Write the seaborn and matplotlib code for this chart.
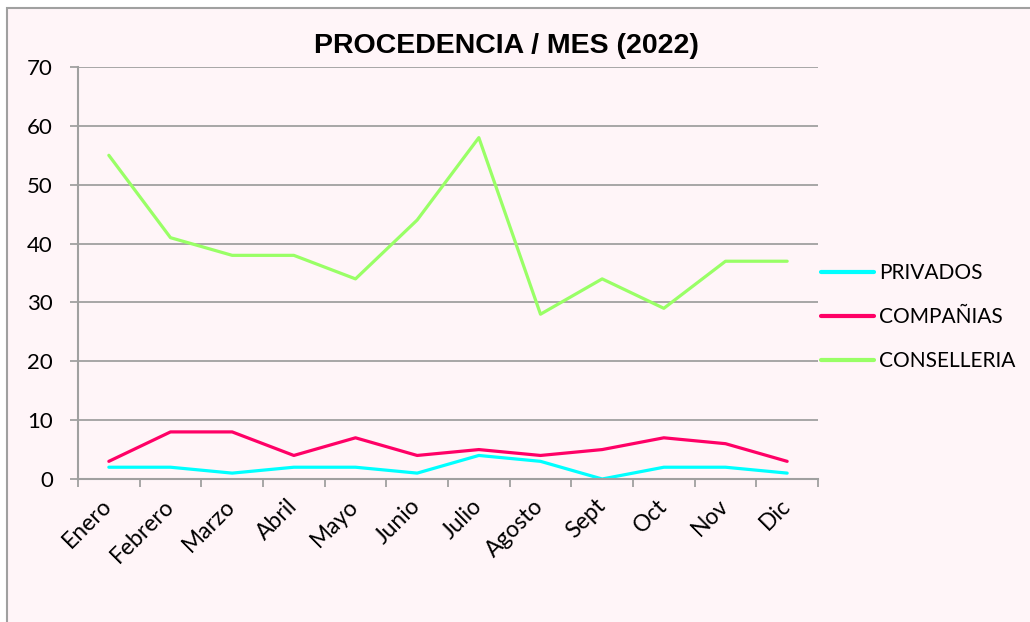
import matplotlib
matplotlib.use("Agg")
import matplotlib.pyplot as plt
import seaborn as sns
import pandas as pd
import numpy as np
from matplotlib.patches import Rectangle
from matplotlib.transforms import ScaledTranslation

months = ["Enero", "Febrero", "Marzo", "Abril", "Mayo", "Junio",
          "Julio", "Agosto", "Sept", "Oct", "Nov", "Dic"]
privados = [2, 2, 1, 2, 2, 1, 4, 3, 0, 2, 2, 1]
companias = [3, 8, 8, 4, 7, 4, 5, 4, 5, 7, 6, 3]
conselleria = [55, 41, 38, 38, 34, 44, 58, 28, 34, 29, 37, 37]
series_names = ["PRIVADOS", "COMPAÑIAS", "CONSELLERIA"]
colors = ["#00FFFF", "#FF0066", "#99FF66"]
yticks = [0, 10, 20, 30, 40, 50, 60, 70]

rows = []
for name, vals in zip(series_names, [privados, companias, conselleria]):
    for i, v in enumerate(vals):
        rows.append({"idx": i, "value": v, "serie": name})
df = pd.DataFrame(rows)

sns.set_theme(style="white")
plt.rcParams["font.family"] = ["Lato", "DejaVu Sans"]
plt.rcParams["text.color"] = "black"
plt.rcParams["xtick.color"] = "black"
plt.rcParams["ytick.color"] = "black"

bg = "#FFF5F8"
gray = "#A0A0A0"
fig = plt.figure(figsize=(10.30, 6.22), dpi=100)
fig.patch.set_facecolor("white")
fig.patches.append(Rectangle((7 / 1030, -0.01), 1.1, 1 - 8 / 622 + 0.01,
                             transform=fig.transFigure, facecolor=bg,
                             edgecolor=gray, linewidth=1.5, zorder=-10))

ax = fig.add_axes([78 / 1030, 1 - 479 / 622, 740 / 1030, 412 / 622])
ax.set_facecolor(bg)
ax.patch.set_alpha(0)

sns.lineplot(data=df, x="idx", y="value", hue="serie", hue_order=series_names,
             palette=colors, linewidth=2.3, sort=False, ax=ax, legend=True)

ax.set_xlim(-0.5, 11.5)
ax.set_ylim(0, 70)
ax.set_yticks(yticks)
ax.set_yticklabels([str(t) for t in yticks], fontsize=16, color="black")
ax.yaxis.grid(True, color=gray, linewidth=1.3)
ax.set_axisbelow(True)

ax.set_xticks(np.arange(len(months)))
ax.set_xticklabels(months, rotation=45, ha="right", va="center",
                   rotation_mode="anchor", fontsize=16.5, color="black")
shift = ScaledTranslation(4 / 100, 0, fig.dpi_scale_trans)
for lab in ax.get_xticklabels():
    lab.set_transform(lab.get_transform() + shift)
ax.xaxis.set_minor_locator(matplotlib.ticker.FixedLocator(np.arange(-0.5, 12, 1)))
ax.tick_params(axis="x", which="major", length=0, pad=17)
ax.tick_params(axis="x", which="minor", length=6, width=1.3, color=gray, direction="out", bottom=True)
ax.tick_params(axis="y", length=6, width=1.3, color=gray, direction="out", left=True, pad=12)

for s in ["top", "right"]:
    ax.spines[s].set_visible(False)
for s in ["left", "bottom"]:
    ax.spines[s].set_color(gray)
    ax.spines[s].set_linewidth(1.5)

ax.set_xlabel("")
ax.set_ylabel("")

leg = ax.legend(loc="center left", bbox_to_anchor=(821 / 1030, 1 - 317 / 622),
                bbox_transform=fig.transFigure, frameon=False, fontsize=15,
                borderpad=0, borderaxespad=0,
                handlelength=2.55, handletextpad=0.25, labelspacing=1.15)
for line in leg.get_lines():
    line.set_linewidth(3)
for t in leg.get_texts():
    t.set_color("black")

fig.text(506 / 1030, 1 - 46 / 622, "PROCEDENCIA / MES (2022)", ha="center", va="center",
         fontsize=20.5, fontweight="bold", color="black",
         family=["Liberation Sans", "DejaVu Sans"])

fig.savefig("out.png", dpi=100, facecolor=fig.get_facecolor())
